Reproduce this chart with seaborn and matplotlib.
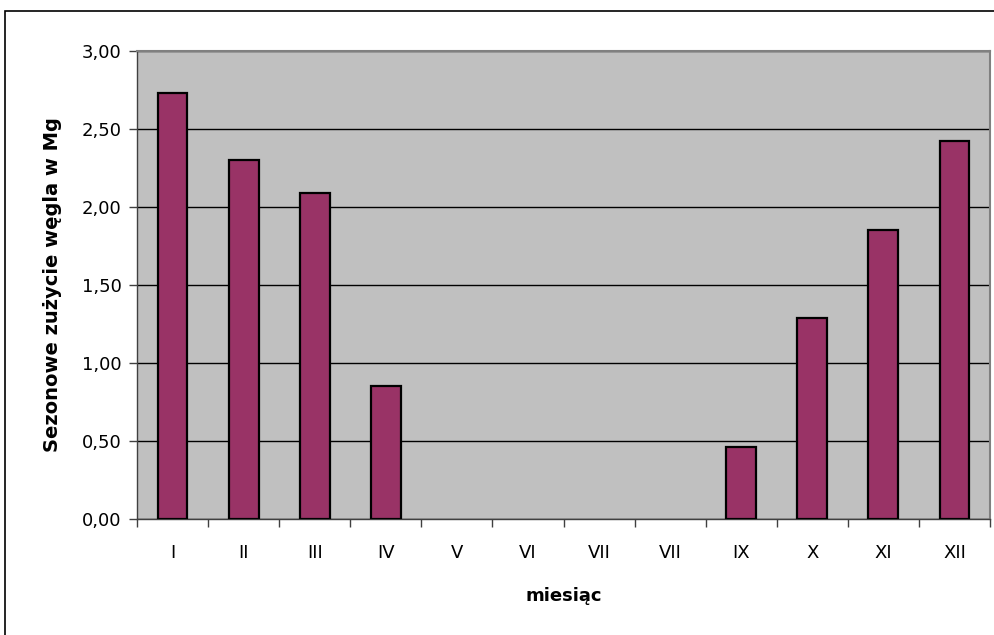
import matplotlib
matplotlib.use("Agg")
import matplotlib.pyplot as plt
import seaborn as sns
import pandas as pd
from matplotlib.patches import Rectangle
from matplotlib.ticker import FuncFormatter, FixedLocator

months = ["I", "II", "III", "IV", "V", "VI", "VII", "VII", "IX", "X", "XI", "XII"]
values = [2.73, 2.30, 2.09, 0.85, 0.0, 0.0, 0.0, 0.0, 0.46, 1.29, 1.85, 2.42]
y_ticks = [0.0, 0.5, 1.0, 1.5, 2.0, 2.5, 3.0]

sns.set_theme(style="white")
plt.rcParams['font.family'] = ['DejaVu Sans']
plt.rcParams['text.color'] = 'black'
plt.rcParams['axes.labelcolor'] = 'black'
plt.rcParams['xtick.color'] = 'black'
plt.rcParams['ytick.color'] = 'black'

fig = plt.figure(figsize=(9.94, 6.35), dpi=100)
ax = fig.add_axes([137/994, (635-519)/635, (990-137)/994, (519-51)/635])

# outer frame
fig.patches.append(Rectangle((5/994, -0.01), 1.0, (635-11)/635 + 0.01,
                             transform=fig.transFigure, fill=False,
                             edgecolor='black', linewidth=1.2, zorder=0))

df = pd.DataFrame({"pos": list(range(len(months))), "val": values})
sns.barplot(data=df, x="pos", y="val", ax=ax, color="#993366",
            edgecolor="black", linewidth=1.6, width=0.42, saturation=1,
            native_scale=True, zorder=3)
for p in ax.patches:
    if p.get_height() == 0:
        p.set_linewidth(0)

ax.set_facecolor("#C0C0C0")
ax.set_xlim(-0.5, len(months) - 0.5)
ax.set_ylim(0, 3.0)
ax.set_yticks(y_ticks)
ax.yaxis.set_major_formatter(FuncFormatter(lambda v, p: f"{v:.2f}".replace(".", ",")))
ax.grid(axis="y", color="black", linewidth=1.0, zorder=1)
ax.set_axisbelow(True)

ax.set_xticks(range(len(months)))
ax.set_xticklabels(months)
ax.xaxis.set_minor_locator(FixedLocator([i - 0.5 for i in range(len(months) + 1)]))
ax.tick_params(axis="x", which="major", length=0, pad=18, labelsize=13, labelcolor="black")
ax.tick_params(axis="x", which="minor", length=6, width=1, color="#404040", bottom=True)
ax.tick_params(axis="y", which="major", length=6, width=1, color="#404040", left=True,
               labelsize=13, pad=5, labelcolor="black")

for side in ["top", "right"]:
    ax.spines[side].set_color("#808080")
    ax.spines[side].set_linewidth(1.5)
for side in ["left", "bottom"]:
    ax.spines[side].set_color("#404040")
    ax.spines[side].set_linewidth(1.0)
    ax.spines[side].set_visible(True)

ax.set_xlabel("miesiąc", fontsize=13, fontweight="bold", labelpad=18, color="black")
ax.set_ylabel("Sezonowe zużycie węgla w Mg", fontsize=14, fontweight="bold", labelpad=14,
              color="black")

fig.savefig("out.png", dpi=100)
